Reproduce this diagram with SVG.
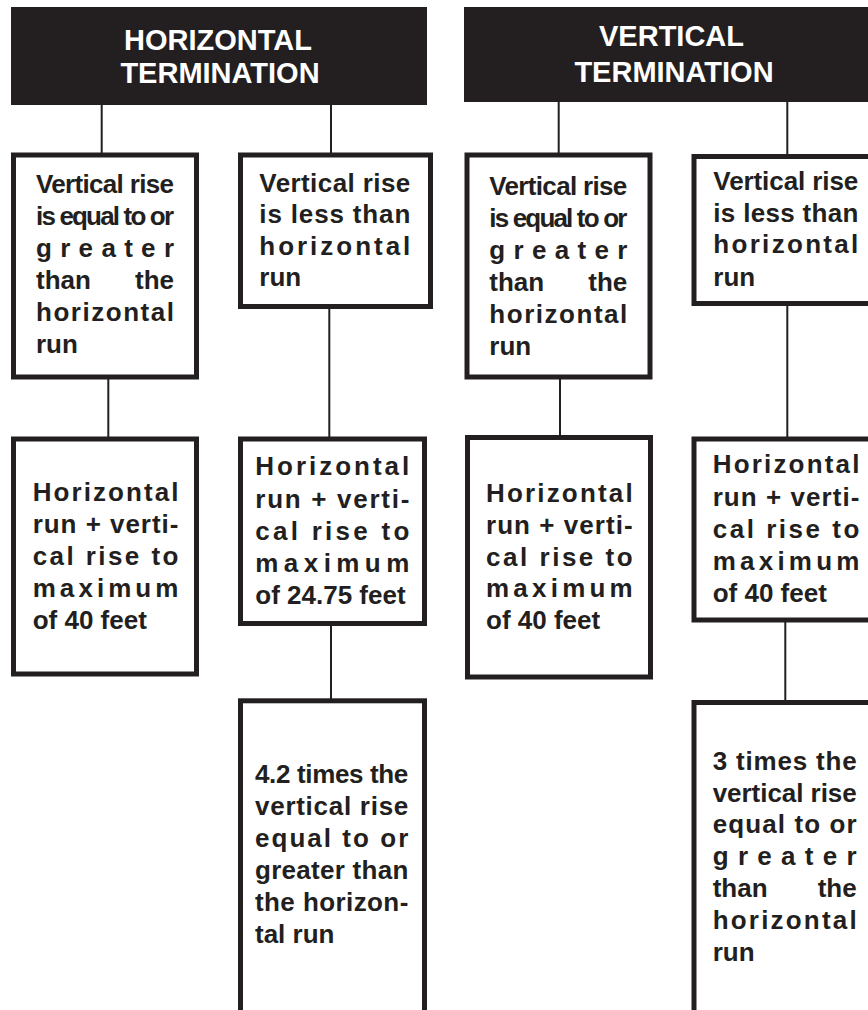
<svg xmlns="http://www.w3.org/2000/svg" width="868" height="1010" viewBox="0 0 868 1010">
<style>
.hdr{fill:#231f20}
.ht{font-family:"Liberation Sans",Arial,Helvetica,sans-serif;font-weight:bold;font-size:29px;fill:#ffffff;text-anchor:middle}
.box{fill:#ffffff;stroke:#231f20;stroke-width:5}
.t{font-family:"Liberation Sans",Arial,Helvetica,sans-serif;font-weight:bold;font-size:26px;fill:#231f20}
.e{text-anchor:end}
.c{stroke:#231f20;stroke-width:2;fill:none}
</style>
<rect width="868" height="1010" fill="#ffffff"/>
<g id="connectors">
<line class="c" x1="101.7" y1="104" x2="101.7" y2="154"/>
<line class="c" x1="331" y1="104" x2="331" y2="154"/>
<line class="c" x1="558.7" y1="101" x2="558.7" y2="154"/>
<line class="c" x1="787.3" y1="101" x2="787.3" y2="155"/>
<line class="c" x1="108.3" y1="378" x2="108.3" y2="438"/>
<line class="c" x1="329.3" y1="308" x2="329.3" y2="438"/>
<line class="c" x1="560" y1="378" x2="560" y2="436"/>
<line class="c" x1="787.3" y1="305" x2="787.3" y2="438"/>
<line class="c" x1="331" y1="624" x2="331" y2="699"/>
<line class="c" x1="785.3" y1="621" x2="785.3" y2="701"/>
</g>
<g id="header-horizontal">
<rect class="hdr" x="11" y="7" width="416" height="98"/>
<text class="ht" x="218" y="50">HORIZONTAL</text>
<text class="ht" x="220" y="83">TERMINATION</text>
</g>
<g id="header-vertical">
<rect class="hdr" x="464" y="7" width="420" height="95"/>
<text class="ht" x="671.5" y="46">VERTICAL</text>
<text class="ht" x="674" y="82">TERMINATION</text>
</g>
<g id="box-a">
<rect class="box" x="13.5" y="155" width="183" height="222"/>
<text class="t" x="36" y="193.3" textLength="138" lengthAdjust="spacing">Vertical rise</text>
<text class="t" x="36" y="225.3" textLength="138" lengthAdjust="spacing">is equal to or</text>
<text class="t" x="36" y="257.3" textLength="138" lengthAdjust="spacing">greater</text>
<text class="t" x="36" y="289.3">than</text><text class="t e" x="174" y="289.3">the</text>
<text class="t" x="36" y="321.3" textLength="138" lengthAdjust="spacing">horizontal</text>
<text class="t" x="36" y="353.3">run</text>
</g>
<g id="box-b">
<rect class="box" x="240.5" y="155" width="190" height="151.5"/>
<text class="t" x="259.3" y="191.7" textLength="151" lengthAdjust="spacing">Vertical rise</text>
<text class="t" x="259.3" y="223" textLength="151" lengthAdjust="spacing">is less than</text>
<text class="t" x="259.3" y="254.5" textLength="151" lengthAdjust="spacing">horizontal</text>
<text class="t" x="259.3" y="286">run</text>
</g>
<g id="box-c">
<rect class="box" x="467" y="155" width="183" height="222"/>
<text class="t" x="489.3" y="195" textLength="138" lengthAdjust="spacing">Vertical rise</text>
<text class="t" x="489.3" y="227" textLength="138" lengthAdjust="spacing">is equal to or</text>
<text class="t" x="489.3" y="259" textLength="138" lengthAdjust="spacing">greater</text>
<text class="t" x="489.3" y="291">than</text><text class="t e" x="627.3" y="291">the</text>
<text class="t" x="489.3" y="323" textLength="138" lengthAdjust="spacing">horizontal</text>
<text class="t" x="489.3" y="355">run</text>
</g>
<g id="box-d">
<rect class="box" x="694" y="156.5" width="200" height="147"/>
<text class="t" x="713.3" y="190" textLength="145" lengthAdjust="spacing">Vertical rise</text>
<text class="t" x="713.3" y="221.7" textLength="145" lengthAdjust="spacing">is less than</text>
<text class="t" x="713.3" y="253.3" textLength="145" lengthAdjust="spacing">horizontal</text>
<text class="t" x="713.3" y="285.7">run</text>
</g>
<g id="box-e">
<rect class="box" x="13.5" y="439" width="183" height="235"/>
<text class="t" x="32.7" y="501" textLength="145.7" lengthAdjust="spacing">Horizontal</text>
<text class="t" x="32.7" y="533" textLength="145.7" lengthAdjust="spacing">run + verti-</text>
<text class="t" x="32.7" y="565" textLength="145.7" lengthAdjust="spacing">cal rise to</text>
<text class="t" x="32.7" y="597" textLength="145.7" lengthAdjust="spacing">maximum</text>
<text class="t" x="32.7" y="628.5">of 40 feet</text>
</g>
<g id="box-f">
<rect class="box" x="240.5" y="439" width="184" height="184.5"/>
<text class="t" x="255.3" y="475" textLength="154" lengthAdjust="spacing">Horizontal</text>
<text class="t" x="255.3" y="507.5" textLength="154" lengthAdjust="spacing">run + verti-</text>
<text class="t" x="255.3" y="539.5" textLength="154" lengthAdjust="spacing">cal rise to</text>
<text class="t" x="255.3" y="571.5" textLength="154" lengthAdjust="spacing">maximum</text>
<text class="t" x="255.3" y="603.5">of 24.75 feet</text>
</g>
<g id="box-g">
<rect class="box" x="467.5" y="437.5" width="183" height="239.5"/>
<text class="t" x="486" y="501.7" textLength="146.7" lengthAdjust="spacing">Horizontal</text>
<text class="t" x="486" y="533.5" textLength="146.7" lengthAdjust="spacing">run + verti-</text>
<text class="t" x="486" y="565.5" textLength="146.7" lengthAdjust="spacing">cal rise to</text>
<text class="t" x="486" y="597.3" textLength="146.7" lengthAdjust="spacing">maximum</text>
<text class="t" x="486" y="629">of 40 feet</text>
</g>
<g id="box-i">
<rect class="box" x="694" y="439" width="200" height="181"/>
<text class="t" x="712.7" y="473.3" textLength="146.7" lengthAdjust="spacing">Horizontal</text>
<text class="t" x="712.7" y="505.5" textLength="146.7" lengthAdjust="spacing">run + verti-</text>
<text class="t" x="712.7" y="537.5" textLength="146.7" lengthAdjust="spacing">cal rise to</text>
<text class="t" x="712.7" y="569.5" textLength="146.7" lengthAdjust="spacing">maximum</text>
<text class="t" x="712.7" y="601.5">of 40 feet</text>
</g>
<g id="box-h">
<rect class="box" x="240.5" y="700.8" width="184" height="400"/>
<text class="t" x="255" y="783.3" textLength="153.3" lengthAdjust="spacing">4.2 times the</text>
<text class="t" x="255" y="815" textLength="153.3" lengthAdjust="spacing">vertical rise</text>
<text class="t" x="255" y="846.7" textLength="153.3" lengthAdjust="spacing">equal to or</text>
<text class="t" x="255" y="878.5" textLength="153.3" lengthAdjust="spacing">greater than</text>
<text class="t" x="255" y="910.5" textLength="153.3" lengthAdjust="spacing">the horizon-</text>
<text class="t" x="255" y="942.5">tal run</text>
</g>
<g id="box-j">
<rect class="box" x="694" y="702.5" width="200" height="400"/>
<text class="t" x="712.7" y="770" textLength="144" lengthAdjust="spacing">3 times the</text>
<text class="t" x="712.7" y="801.7" textLength="144" lengthAdjust="spacing">vertical rise</text>
<text class="t" x="712.7" y="833.3" textLength="144" lengthAdjust="spacing">equal to or</text>
<text class="t" x="712.7" y="865" textLength="144" lengthAdjust="spacing">greater</text>
<text class="t" x="712.7" y="896.7">than</text><text class="t e" x="856.7" y="896.7">the</text>
<text class="t" x="712.7" y="929" textLength="144" lengthAdjust="spacing">horizontal</text>
<text class="t" x="712.7" y="961">run</text>
</g>
</svg>
